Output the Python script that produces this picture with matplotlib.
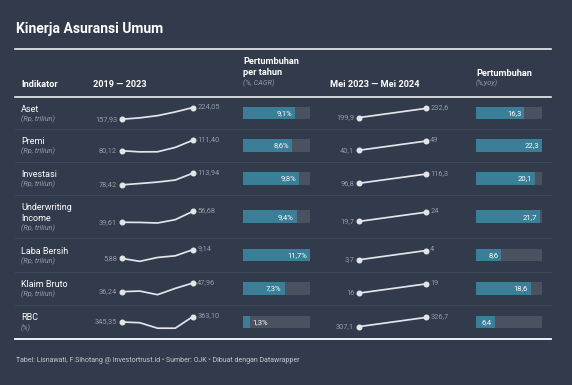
import matplotlib.pyplot as plt

# data
indikator = ["Aset", "Premi", "Investasi", "Underwriting\nIncome",
             "Laba Bersih", "Klaim Bruto", "RBC"]
satuan = ["(Rp, triliun)", "(Rp, triliun)", "(Rp, triliun)", "(Rp, triliun)",
          "(Rp, triliun)", "(Rp, triliun)", "(%)"]
tren_2019_2023 = [
    [157.93, 165.5, 178.0, 199.0, 224.05],
    [80.12, 77.0, 77.2, 90.0, 111.40],
    [78.42, 82.5, 86.8, 93.0, 113.94],
    [39.61, 39.4, 38.5, 43.7, 56.68],
    [5.88, 4.8, 6.24, 6.85, 9.14],
    [36.24, 37.1, 32.2, 40.7, 47.96],
    [345.35, 343.1, 325.4, 325.4, 363.10],
]
cagr = [9.1, 8.6, 9.8, 9.4, 11.7, 7.3, 1.3]
tren_mei = [
    [199.9, 232.6],
    [40.1, 49],
    [96.8, 116.3],
    [19.7, 24],
    [3.7, 4],
    [16, 19],
    [307.1, 326.7],
]
yoy = [16.3, 22.3, 20.1, 21.7, 8.6, 18.6, 6.4]

# style
BG = "#313b4b"
TEAL = "#3a7e98"
TRACK = "#4a515f"
GREY = "#959ca8"
LINE = "#e3e5e9"
SEP = "#3e4858"
FONT = "Roboto"
W, H = 572, 385

# row layout in pixels (top, bottom)
row_edges = [(96.7, 129.3), (129.3, 162), (162, 195.3), (195.3, 238.3),
             (238.3, 272), (272, 305), (305, 339)]

fig = plt.figure(figsize=(W / 100, H / 100), dpi=100, facecolor=BG)


def fx(x):
    return x / W


def fy(y):
    return 1 - y / H


def box(x0, y0, x1, y1):
    return [fx(x0), fy(y1), (x1 - x0) / W, (y1 - y0) / H]


def label(v, dec):
    if dec == 0:
        return f"{v:g}".replace(".", ",")
    return f"{v:.{dec}f}".replace(".", ",")


def txt(x, y, s, size, color="white", weight="normal", style="normal", ha="left", va="center"):
    fig.text(fx(x), fy(y), s, fontsize=size, color=color, fontweight=weight,
             fontstyle=style, ha=ha, va=va, family=FONT)


def sparkline(x0, x1, y0, y1, vals, dec_l, dec_r, lw=1.25):
    ax = fig.add_axes(box(x0, y0, x1, y1))
    ax.set_axis_off()
    xs = list(range(len(vals)))
    ax.plot(xs, vals, color=LINE, lw=lw, clip_on=False, solid_capstyle="round")
    ax.plot([xs[0], xs[-1]], [vals[0], vals[-1]], "o", color=LINE, ms=3.3, clip_on=False)
    ax.set_xlim(xs[0], xs[-1])
    ax.set_ylim(min(vals), max(vals))
    ax.annotate(label(vals[0], dec_l), (xs[0], vals[0]), xytext=(-3.5, 0),
                textcoords="offset points", ha="right", va="center",
                fontsize=5.3, color=GREY, family=FONT)
    ax.annotate(label(vals[-1], dec_r), (xs[-1], vals[-1]), xytext=(3, 0.5),
                textcoords="offset points", ha="left", va="center",
                fontsize=5.3, color=GREY, family=FONT)


def bar(x0, x1, yc, val, vmax, text):
    ax = fig.add_axes(box(x0, yc - 6.3, x1, yc + 6.3))
    ax.set_axis_off()
    ax.barh(0, vmax, height=1, color=TRACK)
    ax.barh(0, val, height=1, color=TEAL)
    ax.set_xlim(0, vmax)
    ax.set_ylim(-0.5, 0.5)
    if val / vmax > 0.15:
        ax.annotate(text, (val, 0), xytext=(-2.2, 0), textcoords="offset points",
                    ha="right", va="center", fontsize=5.5, color="white", family=FONT)
    else:
        ax.annotate(text, (val, 0), xytext=(1.5, 0), textcoords="offset points",
                    ha="left", va="center", fontsize=5.5, color="white", family=FONT)


# title and headers
txt(16, 28.5, "Kinerja Asuransi Umum", 10, weight="bold")
fig.add_artist(plt.Line2D([fx(15), fx(551)], [fy(49.3), fy(49.3)], color="white", lw=1.1))
txt(21, 84.5, "Indikator", 6.6, weight="bold")
txt(93, 84.5, "2019 \u2014 2023", 6.6, weight="bold")
txt(243, 62, "Pertumbuhan", 6.6, weight="bold")
txt(243, 72.5, "per tahun", 6.6, weight="bold")
txt(243, 83.5, "(%, CAGR)", 5.2, color=GREY, style="italic")
txt(330, 84.5, "Mei 2023 \u2014 Mei 2024", 6.6, weight="bold")
txt(476, 73, "Pertumbuhan", 6.6, weight="bold")
txt(476, 83.5, "(%,yoy)", 5.2, color=GREY, style="italic")
fig.add_artist(plt.Line2D([fx(15), fx(551)], [fy(96.7), fy(96.7)], color="white", lw=1.1))

for i, (top, bot) in enumerate(row_edges):
    yc = (top + bot) / 2
    if i < len(row_edges) - 1:
        fig.add_artist(plt.Line2D([fx(15), fx(551)], [fy(bot), fy(bot)], color=SEP, lw=0.8))
    lines = indikator[i].split("\n")
    if len(lines) == 1:
        txt(21, yc - 4, lines[0], 6.5)
        txt(21, yc + 6, satuan[i], 5.2, color=GREY, style="italic")
    else:
        txt(21, yc - 9.3, lines[0], 6.5)
        txt(21, yc + 1.3, lines[1], 6.5)
        txt(21, yc + 11.3, satuan[i], 5.2, color=GREY, style="italic")
    sparkline(122, 193, yc - 5.5, yc + 6.2, tren_2019_2023[i], 2, 2)
    bar(243, 310, yc, cagr[i], max(cagr), label(cagr[i], 1) + "%")
    right = tren_mei[i]
    sparkline(359, 426, yc - 4.6, yc + 4.6, right, 1 if right[0] % 1 else 0,
              1 if right[1] % 1 else 0)
    bar(476, 542, yc, yoy[i], max(yoy), label(yoy[i], 1))

fig.add_artist(plt.Line2D([fx(15), fx(551)], [fy(339), fy(339)], color="white", lw=1.3))
txt(16, 360, "Tabel: Lisnawati, F.Sihotang @ Investortrust.id \u2022 Sumber: OJK \u2022 "
    "Dibuat dengan Datawrapper", 5.05, color="#c3c8cf")

fig.savefig("out.png", dpi=100, facecolor=BG)
